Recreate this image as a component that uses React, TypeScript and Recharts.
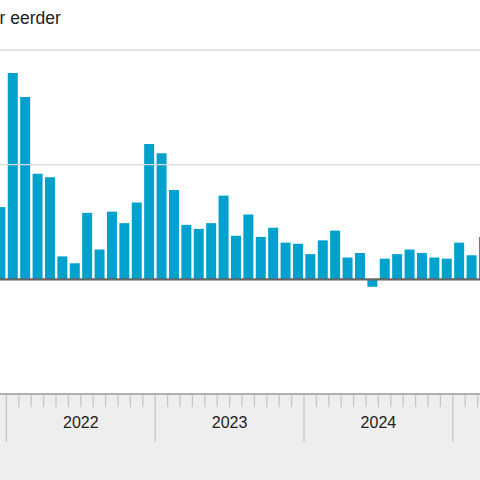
import React from 'react';
import { BarChart, Bar, XAxis, YAxis, ReferenceLine } from 'recharts';

// Monthly categories (Dec 2021 .. Mar 2025)
const categories: string[] = [
  '2021-12',
  '2022-01', '2022-02', '2022-03', '2022-04', '2022-05', '2022-06',
  '2022-07', '2022-08', '2022-09', '2022-10', '2022-11', '2022-12',
  '2023-01', '2023-02', '2023-03', '2023-04', '2023-05', '2023-06',
  '2023-07', '2023-08', '2023-09', '2023-10', '2023-11', '2023-12',
  '2024-01', '2024-02', '2024-03', '2024-04', '2024-05', '2024-06',
  '2024-07', '2024-08', '2024-09', '2024-10', '2024-11', '2024-12',
  '2025-01', '2025-02', '2025-03',
];

// % change vs one year earlier
const values: number[] = [
  6.3,
  18.0, 15.9, 9.2, 8.9, 2.0, 1.4, 5.8, 2.6, 5.9, 4.9, 6.7, 11.8,
  11.0, 7.8, 4.75, 4.4, 4.9, 7.3, 3.8, 5.65, 3.7, 4.5, 3.2, 3.1,
  2.2, 3.4, 4.25, 1.9, 2.3, -0.65, 1.8, 2.2, 2.6, 2.3, 1.9, 1.8,
  3.2, 2.1, 3.7,
];

const gridValues: number[] = [10, 20];
const yDomain: [number, number] = [-10, 20];
const titleText = 'r eerder';

const data = categories.map((m, i) => ({ m, v: values[i] }));

const CHART_W = 496;
const CHART_H = 480;
const AXIS_H = 86;
const SLOT = CHART_W / categories.length;

const MonthTick = (props: any) => {
  const { x, y, payload } = props;
  const cat: string = categories[payload.index] ?? String(payload.value);
  const month = parseInt(cat.slice(5, 7), 10);
  const year = cat.slice(0, 4);
  const left = x - SLOT / 2;
  const isJan = month === 1;
  return (
    <g>
      <line
        x1={left}
        x2={left}
        y1={y + 1}
        y2={y + (isJan ? 48 : 13)}
        stroke="#c6c6c6"
        strokeWidth={1.3}
      />
      {month === 7 && (
        <text
          x={left}
          y={y + 34}
          textAnchor="middle"
          fontSize={16}
          fontFamily="Arial, 'Liberation Sans', sans-serif"
          fill="#222"
        >
          {year}
        </text>
      )}
    </g>
  );
};

export default function App() {
  return (
    <div
      style={{
        position: 'fixed',
        left: 0,
        top: 0,
        width: 480,
        height: 480,
        overflow: 'hidden',
        background: '#ffffff',
      }}
    >
      <div
        style={{
          position: 'absolute',
          left: 0,
          top: CHART_H - AXIS_H,
          width: 480,
          height: AXIS_H,
          background: '#eeeeee',
        }}
      />
      <div
        style={{
          position: 'absolute',
          left: -0.5,
          top: 8,
          fontFamily: "Arial, 'Liberation Sans', sans-serif",
          fontSize: 17.5,
          color: '#222',
          whiteSpace: 'nowrap',
        }}
      >
        {titleText}
      </div>
      <div style={{ position: 'absolute', left: -5.8, top: 0 }}>
        <BarChart
          width={CHART_W}
          height={CHART_H}
          data={data}
          margin={{ top: 50, right: 0, left: 0, bottom: 0 }}
          barCategoryGap="11%"
        >
          <YAxis hide domain={yDomain} type="number" allowDataOverflow />
          {gridValues.map((g) => (
            <ReferenceLine key={g} y={g} stroke="#d9d9d9" strokeWidth={1.3} />
          ))}
          <XAxis
            dataKey="m"
            height={AXIS_H}
            interval={0}
            tickLine={false}
            tickSize={0}
            tickMargin={0}
            axisLine={{ stroke: '#999', strokeWidth: 1.5 }}
            tick={<MonthTick />}
          />
          <Bar dataKey="v" fill="#00a1cd" isAnimationActive={false} />
          <ReferenceLine y={0} stroke="#666" strokeWidth={2.2} />
        </BarChart>
      </div>
    </div>
  );
}
